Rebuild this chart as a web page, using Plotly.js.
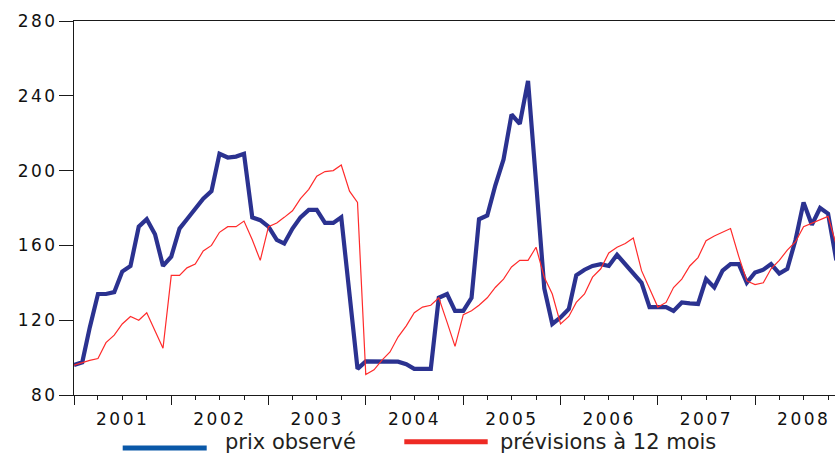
<!DOCTYPE html>
<html>
<head>
<meta charset="utf-8">
<script src="https://cdn.plot.ly/plotly-3.0.1.min.js"></script>
<style>
  html, body { margin: 0; padding: 0; background: #fff; }
  #chart { width: 835px; height: 456px; }
  .xtick text { letter-spacing: 2.5px; }
  .ytick text { letter-spacing: 2.5px; }
</style>
</head>
<body>
<div id="chart"></div>
<script>
// ---- data (monthly, starting January 2001) ----
const startYear = 2001;
const startMonth = 1;

const seriesNames = ["prix observé", "prévisions à 12 mois"];

const prixObserve = [
  96, 97.5, 116, 134, 134, 135, 146, 149, 170, 174, 166, 149,
  154, 169, 174, 180, 185, 189, 209, 207, 207.5, 209, 175, 173.5,
  170, 163, 161, 169, 175, 179, 179, 172, 172, 175, 133, 94,
  98, 98, 97.5, 97.5, 97.8, 96.5, 94, 94, 94, 132, 134, 125,
  125, 132, 174, 176, 192, 206, 230, 225, 248, 194, 137, 118,
  121.5, 126, 144, 147, 149, 150, 149, 155, 150, 145, 140, 127,
  127, 127, 125, 129.5, 129, 128.7, 142, 137.5, 146.5, 150, 150, 140,
  145.5, 147, 150, 145, 147.5, 163, 183, 171, 180, 177, 152
];

const previsions12 = [
  96, 97.5, 98.5, 99.5, 108, 112, 118, 122, 120, 124, 114, 105,
  144, 144, 148, 150, 157, 160, 167, 170, 170, 173, 163, 152,
  170, 172, 175, 178.5, 185, 190, 197, 199.5, 200, 203, 189, 183,
  91, 93.5, 98.5, 103, 111, 117, 124, 127, 128, 132, 119, 106,
  123, 125, 128, 132, 137.5, 142, 148.5, 152, 152, 159, 143, 134,
  118, 122, 129.5, 134, 143, 147.5, 156, 159, 161, 164, 146.5, 137,
  127, 129.5, 137.5, 142, 149, 153.5, 162.5, 165, 167, 169, 154, 141,
  139, 140, 147.5, 152, 157.5, 162, 170, 172, 174, 175.5, 160
];

const yTickValues = [80, 120, 160, 200, 240, 280];

// month dates for the x axis
function monthDates(n) {
  const out = [];
  for (let i = 0; i < n; i++) {
    const y = startYear + Math.floor((startMonth - 1 + i) / 12);
    const m = ((startMonth - 1 + i) % 12) + 1;
    out.push(y + "-" + String(m).padStart(2, "0") + "-01");
  }
  return out;
}
const dates = monthDates(prixObserve.length);

const blueLine = "#2b3290";
const redLine = "#ff2b2b";
const blueLegend = "#0a58a8";
const redLegend = "#ee2a24";
const axisColor = "#1a1a1a";
const tickFont = { family: "DejaVu Sans, Verdana, sans-serif", size: 17, color: "#111" };
const legendFont = { family: "DejaVu Sans, Arial, sans-serif", size: 21, color: "#231f20" };

const traces = [
  {
    x: dates, y: prixObserve, name: seriesNames[0], type: "scatter", mode: "lines",
    line: { color: blueLine, width: 4.2 }, showlegend: false
  },
  {
    x: dates, y: previsions12, name: seriesNames[1], type: "scatter", mode: "lines",
    line: { color: redLine, width: 1.2 }, showlegend: false
  }
];

// custom legend (paper coords relative to plot area)
const plotL = 74, plotW = 761, plotB = 395, plotH = 374;
const px = v => (v - plotL) / plotW;
const py = v => (plotB - v) / plotH;

const layout = {
  width: 835, height: 456,
  margin: { l: plotL, r: 0, t: 21, b: 61, pad: 0 },
  paper_bgcolor: "#ffffff", plot_bgcolor: "#ffffff",
  showlegend: false,
  xaxis: {
    type: "date",
    range: ["2001-01-01", "2008-10-27"],
    tick0: "2001-01-01", dtick: "M12",
    ticklabelmode: "period", tickformat: "%Y",
    ticks: "outside", ticklen: 9, tickwidth: 1, tickcolor: axisColor,
    minor: { dtick: "M3", ticks: "outside", ticklen: 4, tickwidth: 1, tickcolor: axisColor, showgrid: false },
    showline: true, linecolor: axisColor, linewidth: 1, mirror: true,
    showgrid: false, zeroline: false,
    tickfont: tickFont
  },
  yaxis: {
    range: [80, 280],
    tickvals: yTickValues,
    ticks: "outside", ticklen: 14, tickwidth: 1, tickcolor: axisColor,
    ticklabelstandoff: -2,
    showline: true, linecolor: axisColor, linewidth: 1,
    showgrid: false, zeroline: false,
    tickfont: tickFont
  },
  shapes: [
    { type: "line", xref: "paper", yref: "paper",
      x0: px(122.7), x1: px(206.7), y0: py(448), y1: py(448),
      line: { color: blueLegend, width: 5 } },
    { type: "line", xref: "paper", yref: "paper",
      x0: px(404.3), x1: px(487.7), y0: py(441.7), y1: py(441.7),
      line: { color: redLegend, width: 5 } }
  ],
  annotations: [
    { xref: "paper", yref: "paper", x: px(223), y: py(442), xanchor: "left", yanchor: "middle",
      text: seriesNames[0], showarrow: false, font: legendFont },
    { xref: "paper", yref: "paper", x: px(497.5), y: py(442), xanchor: "left", yanchor: "middle",
      text: seriesNames[1], showarrow: false, font: legendFont }
  ]
};

Plotly.newPlot("chart", traces, layout, { staticPlot: true, displayModeBar: false });
</script>
</body>
</html>
